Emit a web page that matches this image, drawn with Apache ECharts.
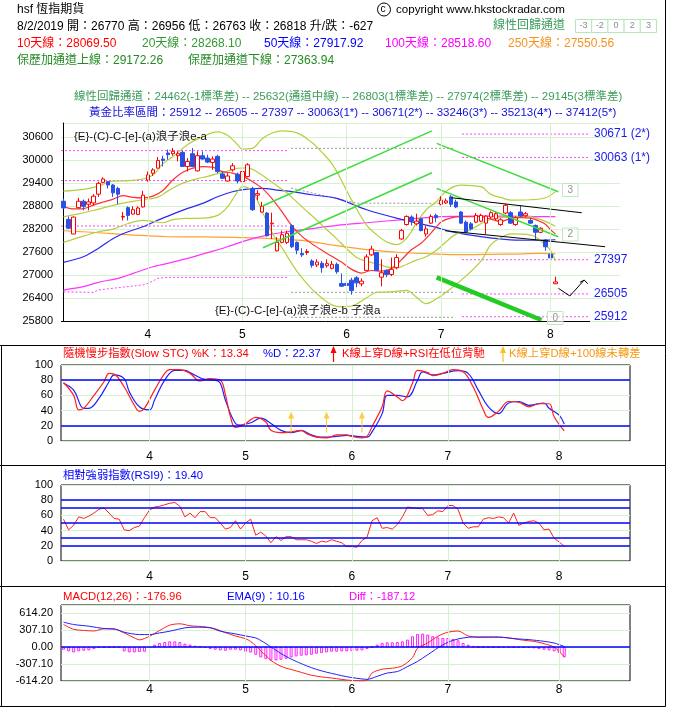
<!DOCTYPE html>
<html><head><meta charset="utf-8">
<script src="https://cdn.jsdelivr.net/npm/echarts@6/dist/echarts.min.js"></script>
<style>html,body{margin:0;padding:0;background:#fff;}#c{width:677px;height:717px;}</style>
</head><body><div id="c"></div>
<script>
// ---------- categories (trading days) ----------
const holidays = ['2019-04-05','2019-04-19','2019-04-22','2019-05-01','2019-05-13','2019-06-07','2019-07-01'];
const dates = [];
for (let d = new Date(Date.UTC(2019,2,7)); d.getTime() <= Date.UTC(2019,7,2); d.setUTCDate(d.getUTCDate()+1)) {
  const dow = d.getUTCDay(), s = d.toISOString().slice(0,10);
  if (dow > 0 && dow < 6 && holidays.indexOf(s) < 0) dates.push(s);
}
const monthStarts = dates.map((d,i)=> (i>0 && d.slice(5,7)!==dates[i-1].slice(5,7)) ? i : -1).filter(i=>i>=0);

// ---------- candles ----------
const open = [28921,28446,28068,28754,28921,28842,28877,29106,29413,29431,
29343,29255,28508,28754,28587,28578,28772,29475,29651,29783,
30020,30178,30160,30108,30196,29827,30160,29712,30108,30046,
29932,30090,29633,29448,29739,29624,29431,29563,29255,29079,
28640,28613,28332,27629,27849,27849,28288,27849,27558,27585,
27365,27260,27304,27242,27172,27277,26776,26780,26864,26926,
26768,27119,27523,27585,26943,27119,27014,27189,27937,28314,
28508,28332,28464,28068,28350,28552,28842,28877,29035,28903,
28640,28376,28332,28376,28402,28350,28508,28464,28314,28613,
28622,28314,28640,28543,28420,28288,28112,27910,27541,26770];
const close = [28745,28218,28508,28921,28789,28904,29053,29387,29501,29343,
29141,29106,28525,28552,28701,28745,29079,29607,29739,29985,
29985,30134,30222,30160,29827,29958,29826,30108,30020,29941,
30020,29695,29519,29580,29844,29448,29695,29871,28701,29120,
28790,28024,28350,27849,28050,28085,27734,27646,27524,27611,
27251,27339,27189,27295,27277,27084,26706,26725,26592,26794,
26838,27470,27673,27119,27058,27014,27146,27453,28156,28525,
28402,28402,28156,28200,28525,28490,28947,28930,28842,28772,
28350,28112,28200,28552,28552,28534,28622,28596,28437,28815,
28350,28490,28534,28596,28350,28112,28218,27734,27445,26818];
const high = [28991,28525,28525,29009,28965,28990,29106,29431,29545,29448,
29370,29299,28640,28789,28789,28789,29193,29695,29783,30073,
30108,30266,30310,30222,30240,30046,30310,30222,30222,30134,
30090,30134,29695,29651,29914,29668,29739,29914,29299,29211,
28903,28640,28622,27981,28156,28156,28315,27875,27699,27673,
27409,27409,27365,27409,27365,27321,27040,26838,26926,26970,
26908,27541,27761,27600,27409,27146,27453,27541,28200,28552,
28552,28596,28490,28288,28578,28596,29053,28990,29079,28960,
28666,28420,28380,28613,28596,28552,28660,28640,28480,28850,
28666,28530,28815,28640,28490,28315,28244,27937,27699,26956];
const low = [28720,28200,28068,28728,28684,28684,28815,29035,29387,29255,
29035,28842,28420,28420,28578,28560,28754,29431,29580,29783,
29826,30002,30108,29958,29826,29695,29826,29695,30002,29914,
29739,29651,29500,29430,29695,29387,29387,29545,28666,28947,
28620,27998,27937,27611,27822,27805,27699,27541,27470,27523,
27189,27207,27058,27189,27146,27032,26690,26662,26486,26680,
26706,27119,27500,27101,26706,26943,26970,27146,27920,28288,
28288,28288,28138,27998,28332,28376,28815,28850,28772,28740,
28332,28086,28160,28350,28376,28068,28470,28430,28280,28580,
28332,28280,28508,28508,28332,27910,28086,27629,27383,26763];

// ---------- moving averages / bands ([day index, value]) ----------
const ma10 = [[0,28780],[2,28720],[4,28730],[6,28820],[8,28900],[9,28937],[10,28977],[12,29067],[14,29021],[16,29008],[18,29054],[20,29202],[22,29475],[24,29674],[26,29784],[28,29824],[30,29808],[32,29691],[34,29655],[36,29576],[38,29437],[40,29257],[42,28984],[44,28645],[46,28270],[48,28005],[50,27810],[52,27643],[54,27487],[56,27328],[58,27146],[60,27050],[62,27116],[64,27098],[66,27170],[68,27393],[70,27655],[72,27831],[74,28097],[76,28380],[78,28489],[80,28521],[82,28517],[84,28526],[86,28454],[88,28396],[90,28466],[92,28493],[94,28479],[96,28390],[97,28320],[98,28183],[99,28069.50]];
const ma20 = [[0,28517],[3,28590],[6,28680],[9,28780],[12,28870],[15,28940],[17,28980],[19,29027],[21,29185],[23,29333],[25,29437],[27,29512],[29,29568],[31,29641],[33,29707],[35,29781],[37,29792],[39,29684],[41,29507],[43,29318],[45,29136],[47,28898],[49,28657],[51,28426],[53,28179],[55,27940],[57,27682],[59,27456],[61,27353],[63,27298],[65,27210],[67,27182],[69,27273],[71,27386],[73,27476],[75,27637],[77,27865],[79,28064],[81,28130],[83,28259],[85,28405],[87,28485],[89,28502],[91,28516],[93,28536],[95,28487],[97,28396],[99,28268.10]];
const bbUpper = [[0,29185],[4,29229],[7,29315],[10,29445],[13,29460],[16,29500],[18,29602],[20,29900],[22,30079],[25,30400],[28,30600],[31,30730],[33,30640],[35,30400],[36,30280],[38,30300],[40,30550],[42,30700],[44,30756],[47,30704],[50,30450],[52,30200],[54,29900],[56,29450],[58,28950],[61,28300],[63,28050],[65,27866],[67,27790],[69,27950],[71,28344],[73,28700],[75,28900],[77,29180],[80,29342],[84,29300],[86,29100],[88,29020],[90,28952],[94,28960],[97,29012],[99,29172.26]];
const bbLower = [[0,27849],[4,28011],[7,28125],[10,28195],[13,28340],[16,28420],[18,28398],[20,28360],[22,28441],[25,28474],[28,28480],[31,28552],[33,28774],[35,29162],[36,29300],[38,29180],[40,28650],[42,28100],[44,27704],[47,27092],[50,26630],[52,26400],[54,26220],[56,26170],[58,26190],[61,26406],[63,26546],[65,26554],[67,26574],[69,26596],[71,26428],[73,26252],[75,26374],[77,26550],[80,26858],[84,27360],[86,27790],[88,27970],[90,28068],[94,28040],[97,27780],[98,27640],[99,27363.94]];
const ma50 = [[0,27328],[4,27475],[7,27692],[10,27952],[13,28126],[16,28256],[19,28430],[22,28586],[25,28734],[28,28864],[31,29038],[34,29168],[37,29237],[40,29255],[43,29211],[46,29170],[50,29090],[55,28995],[61,28700],[68,28450],[75,28240],[78,28130],[84,27997],[90,27915],[95,27905],[99,27917.92]];
const ma100 = [[0,26607],[4,26694],[7,26807],[11,26911],[14,27041],[18,27215],[21,27302],[25,27432],[29,27580],[33,27736],[37,27909],[41,28039],[45,28126],[49,28190],[55,28290],[61,28360],[69,28450],[76,28520],[83,28535],[89,28535],[96,28520],[99,28518.60]];
const ma250 = [[0,28152],[4,28126],[7,28100],[14,28039],[21,27996],[28,27990],[34,27979],[41,27953],[48,27900],[54,27780],[61,27660],[68,27585],[75,27545],[80,27530],[90,27545],[96,27560],[99,27550.56]];
const stepDotted = [[0,26560],[6,26545],[7,26610],[16,26740],[17,26780],[19,26910],[21,26937],[45.2,26937]];

// ---------- reference levels ----------
const leftLevels = [30240, 29460, 28275];
const grayLevels = [30300, 26548, 25897];
const grayBent = [[45.8,29264],[59.1,28870],[75.8,28866]];
const goldenVals = [30671, 30063, 27397, 26505, 25912];
const goldenTags = ['30671 (2*)', '30063 (1*)', '27397', '26505', '25912'];
const goldenAll = [25912, 26505, 27397, 30063, 30671, 33246, 35213, 37412];
const goldenAllTags = ['', '', '', '(1*)', '(2*)', '(3*)', '(4*)', '(5*)'];
const regVals = [24462, 25632, 26803, 27974, 29145];
const regNames = ['-1標準差', '通道中線', '1標準差', '2標準差', '3標準差'];

// trend / channel lines (day index, price)
const greenA = [[40.15,28803],[74.16,30756]];
const greenB = [[40.15,27710],[74.16,29663]];
const greenC = [[75.1,30428],[99.58,29168]];
const greenD = [[75.1,29256],[99.58,27996]];
const greenE = [[75.1,26939],[96.2,25827]];
const blackUp = [[78.1,29012],[104.3,28621]];
const blackLow = [[76.8,28152],[109.0,27736]];
const arrowPath = [[99.6,26652],[101.9,26452],[104.8,26868]];
const arrowHead = [[103.95,26808],[104.8,26868],[105.5,26772]];

// ---------- STC ----------
const stcK = [[0,77],[2,60],[3,41],[4,43],[6,60],[8,78],[9,89],[10,88],[12,71],[14,47],[15,39],[16,43],[18,67],[20,89],[21,94],[23,94],[25,89],[27,79],[29,82],[31,80],[32,61],[33,32],[34,18],[36,23],[37,28],[38,31],[40,25],[41,14],[43,11],[45,12],[47,14],[48,10],[50,5],[52,4],[54,8],[56,8],[57,6],[59,4],[60,6],[61,19],[63,45],[64,66],[66,58],[67,53],[69,76],[70,93],[72,90],[73,86],[75,89],[77,94],[79,91],[81,71],[83,41],[84,31],[86,39],[88,52],[90,51],[92,45],[94,49],[96,49],[97,32],[99,13.34]];
const stcD = [[0,76],[2,67],[4,43],[5,43],[7,56],[9,78],[10,87],[12,82],[13,65],[15,45],[17,41],[18,54],[20,80],[22,93],[24,93],[25,90],[28,81],[30,80],[31,76],[32,54],[34,23],[35,21],[37,24],[39,30],[41,23],[43,14],[45,11],[47,13.6],[49,8],[51,5],[54,6],[56,7.5],[58,6],[60,5],[61,12],[63,36],[64,60],[66,60],[68,58],[70,80],[71,91],[73,87],[75,89],[78,92.5],[80,89],[82,67],[84,45],[86,36],[88,50],[90,52],[92,47],[95,50],[96,43],[98,34],[99,22.37]];
const stcSignals = [45, 52, 59];

// ---------- RSI ----------
const rsi9 = [55,41,47,58,56,59,63,68,70,63,
56,55,41,40,44,46,57,67,71,72,
74,76,77,72,58,63,57,65,65,57,
57,50,42,44,53,42,50,55,34,38,
33,24,32,27,32,32,28,28,28,26,
23,26,25,28,26,24,19,19,18,27,
31,53,57,43,44,42,48,58,71,70,
69,69,60,61,66,65,73,73,68,50,
43,45,45,55,57,56,58,57,50,63,
47,50,52,53,50,41,42,30,25,19.40];

// ---------- MACD ----------
const macd = [[0,407],[2,320],[4,300],[6,290],[8,330],[10,325],[12,255],[14,165],[15,130],[17,195],[19,300],[21,395],[23,420],[25,385],[28,365],[30,330],[32,260],[34,200],[36,150],[37,100],[38,25],[39,-70],[40,-156],[41,-241],[42,-302],[43,-348],[44,-383],[45,-405],[47,-458],[49,-510],[51,-540],[53,-560],[55,-585],[57,-605],[59,-612],[60,-600],[61,-470],[63,-400],[65,-383],[67,-340],[69,-190],[70,-20],[72,73],[74,195],[76,268],[78,290],[80,200],[82,176],[86,176],[88,164],[91,122],[93,103],[95,61],[97,0],[98,-80],[99,-176.96]];
const ema9 = [[0,450],[2,407],[5,377],[8,334],[10,328],[12,268],[15,225],[17,225],[19,255],[21,286],[24,347],[26,359],[29,347],[31,286],[34,237],[36,200],[38,165],[39,118],[40,63],[41,2],[42,-59],[43,-117],[44,-170],[45,-217],[46,-260],[47,-300],[48,-338],[50,-404],[52,-455],[54,-497],[56,-537],[58,-565],[60,-585],[62,-530],[64,-470],[66,-444],[68,-354],[70,-260],[72,-140],[75,40],[77,120],[79,164],[81,182],[86,182],[88,164],[90,146],[92,134],[95,103],[97,73],[98,43],[99,10.16]];
const diff = [-49,-79,-97,-79,-67,-61,-36,-12,-8,-8,
-8,-8,-79,-97,-97,-91,-85,-18,43,73,
91,103,103,91,61,43,24,12,-18,-36,
-49,-61,-67,-49,-49,-61,-85,-100,-140,-188,
-219,-243,-243,-231,-213,-188,-170,-158,-152,-140,
-122,-109,-97,-85,-85,-79,-79,-73,-67,-61,
-36,0,43,73,85,85,91,103,134,195,
237,243,225,195,176,164,164,146,122,73,
43,12,0,-3,-5,-6,-6,-8,-10,-10,
-12,-12,-15,-24,-36,-49,-61,-79,-109,-187.12];

// ---------- drawing ----------
const FONT = '"Liberation Sans","Noto Sans CJK TC",sans-serif';
const GRIDC = '#d6f1cf';
const XMIN = -0.5, XMAX = 112;
const last = a => a[a.length-1][1];
const chart = echarts.init(document.getElementById('c'));

function xAxisFor(gi, margin) {
  return { type:'value', gridIndex:gi, min:XMIN, max:XMAX,
    axisLine:{show:false}, axisTick:{show:false}, splitLine:{show:false},
    axisLabel:{ customValues: monthStarts, margin: margin,
      formatter: v => String(+dates[Math.round(v)].slice(5,7)), color:'#000', fontSize:12, fontFamily:FONT } };
}
function vGrid(gi, extra) {
  const data = monthStarts.map(v => ({xAxis:v}));
  return { type:'line', xAxisIndex:gi, yAxisIndex:gi, data:[], silent:true, z:0,
    markLine:{ silent:true, symbol:['none','none'], label:{show:false}, animation:false,
      lineStyle:{color:GRIDC, width:1, type:'solid'}, data: data.concat(extra||[]) } };
}
function ln(gi, data, color, width, extra) {
  return Object.assign({ type:'line', xAxisIndex:gi, yAxisIndex:gi, data:data, showSymbol:false, symbol:'none',
    silent:true, lineStyle:{color:color, width:width||1}, z:2 }, extra||{});
}
function hline(gi, vals, color, width) {
  return vals.map(v => ({ yAxis:v, lineStyle:{color:color, width:width, type:'solid'} }));
}

const series = [];
// main panel
series.push(vGrid(0, [[{coord:[XMIN,25800], lineStyle:{color:'#000', width:1, type:'solid'}},{coord:[105.96,25800]}]]));
leftLevels.forEach(v => series.push(ln(0, [[XMIN,v],[45.2,v]], '#ff44ff', 1, {lineStyle:{color:'#ff44ff', width:1, type:[2,2]}})));
grayLevels.forEach(v => series.push(ln(0, [[45.8,v],[78.8,v]], '#999', 1, {lineStyle:{color:'#999', width:1, type:[2,2]}})));
series.push(ln(0, grayBent, '#999', 1, {lineStyle:{color:'#999', width:1, type:[2,2]}}));
series.push(ln(0, stepDotted, '#ff44ff', 1, {lineStyle:{color:'#ff44ff', width:1, type:[2,2]}}));
goldenVals.forEach((v,i) => series.push(ln(0, [[80.2,v],[105.56,v]], '#ff44ff', 1, {
  lineStyle:{color:'#ff44ff', width:1, type:[2,2]},
  endLabel:{show:true, formatter: goldenTags[i], color:'#1c1cf0', fontSize:12, fontFamily:FONT, distance:6}})));
series.push(ln(0, ma250, '#ffa033', 1.2, {smooth:0.3}));
series.push(ln(0, ma100, '#ff33ff', 1.2, {smooth:0.3}));
series.push(ln(0, ma50, '#2a2aee', 1.2, {smooth:0.3}));
series.push(ln(0, bbUpper, '#b4cf3c', 1.2, {smooth:0.4}));
series.push(ln(0, ma20, '#b4cf3c', 1.2, {smooth:0.4}));
series.push(ln(0, bbLower, '#b4cf3c', 1.2, {smooth:0.4}));
series.push(ln(0, ma10, '#ff3030', 1.2, {smooth:0.3}));
series.push({ type:'candlestick', xAxisIndex:0, yAxisIndex:0, silent:true, z:3, barWidth:4,
  data: open.map((o,i)=>[i,o,close[i],low[i],high[i]]), encode:{x:0, y:[1,2,3,4]},
  itemStyle:{color:'#ffffff', color0:'#2b50e6', borderColor:'#ff0000', borderColor0:'#2b50e6', borderWidth:1} });
[greenA, greenB, greenC, greenD].forEach(d => series.push(ln(0, d, '#3fdc3f', 1.5, {z:4})));
series.push(ln(0, greenE, '#22cc22', 4.5, {z:4}));
series.push(ln(0, blackUp, '#000', 1, {z:4}));
series.push(ln(0, blackLow, '#000', 1, {z:4}));
series.push(ln(0, arrowPath, '#000', 1, {z:4}));
series.push(ln(0, arrowHead, '#000', 1, {z:4}));

// STC panel
series.push(vGrid(1));
series.push(ln(1, stcD, '#1f1fff', 1.2, {smooth:0.4}));
series.push(ln(1, stcK, '#ff1f1f', 1.2, {smooth:0.4,
  markLine:{silent:true, symbol:['none','none'], label:{show:false}, animation:false, data: hline(1,[80,20],'#0000ff',1.5)}}));
series.push({ type:'scatter', xAxisIndex:1, yAxisIndex:1, silent:true, z:5,
  data: stcSignals.map(i=>[i,25]),
  symbol:'path://M3,0 L6,7 L3.6,7 L3.6,21 L2.4,21 L2.4,7 L0,7 Z', symbolSize:[6,21],
  itemStyle:{color:'#f7c21a'} });

// RSI panel
series.push(vGrid(2));
series.push(ln(2, rsi9.map((v,i)=>[i,v]), '#ff2020', 1, {
  markLine:{silent:true, symbol:['none','none'], label:{show:false}, animation:false, data: hline(2,[80,70,50,30,20],'#0000ff',1.5)}}));

// MACD panel
series.push(vGrid(3));
series.push({ type:'bar', xAxisIndex:3, yAxisIndex:3, silent:true, barWidth:3, z:2,
  data: diff.map((v,i)=>[i,v]),
  itemStyle:{color:'rgba(255,255,255,0)', borderColor:'#ff22ff', borderWidth:1},
  markLine:{silent:true, symbol:['none','none'], label:{show:false}, animation:false, data: hline(3,[0],'#0000ff',1.5)} });
series.push(ln(3, macd, '#ff2020', 1, {smooth:0.3, z:3}));
series.push(ln(3, ema9, '#2020ff', 1, {smooth:0.3, z:3}));

// ---------- texts & frame ----------
const G = [];
function txt(x, y, text, fill, size, extra) {
  G.push(Object.assign({ type:'text', x:x, y:y, silent:true, z:10,
    style:{ text:text, fill:fill, font:(size||12)+'px '+FONT, verticalAlign:'middle', textVerticalAlign:'middle' } }, extra||{}));
}
function seg(x1,y1,x2,y2,color,w) {
  G.push({ type:'line', silent:true, z:10, shape:{x1:x1,y1:y1,x2:x2,y2:y2}, style:{stroke:color||'#000', lineWidth:w||1} });
}
const d99 = dates[dates.length-1];
const dateStr = (+d99.slice(5,7)) + '/' + (+d99.slice(8,10)) + '/' + d99.slice(0,4);
const n = close.length - 1;
txt(17, 10, 'hsf 恆指期貨', '#000', 12);
G.push({ type:'circle', silent:true, z:10, shape:{cx:384, cy:9.5, r:6.5}, style:{fill:'none', stroke:'#000', lineWidth:1} });
txt(380.5, 9.5, 'c', '#000', 10);
txt(396, 10, 'copyright www.hkstockradar.com', '#000', 11.6);
txt(17, 27, dateStr + ' 開：' + open[n] + ' 高：' + high[n] + ' 低：' + low[n] + ' 收：' + close[n] + ' 升/跌：' + (close[n]-close[n-1]), '#000', 12);
txt(493, 26, '線性回歸通道', '#3c9c5c', 12);
['-3','-2','0','2','3'].forEach((t,i) => {
  G.push({ type:'rect', silent:true, z:10, shape:{x:575.5+i*16.2, y:19.5, width:16.2, height:13}, style:{fill:'#fff', stroke:'#b9e6b9', lineWidth:1} });
  G.push({ type:'text', silent:true, z:11, x:583.6+i*16.2, y:26, style:{text:t, fill:'#8a8a8a', font:'9px '+FONT, align:'center', verticalAlign:'middle', textAlign:'center', textVerticalAlign:'middle'} });
});
txt(17, 44, '10天線：' + last(ma10).toFixed(2), '#ff0000', 12);
txt(142, 44, '20天線：' + last(ma20).toFixed(2), '#339933', 12);
txt(264, 44, '50天線：' + last(ma50).toFixed(2), '#0000ff', 12);
txt(385, 44, '100天線：' + last(ma100).toFixed(2), '#ff00ff', 12);
txt(508, 44, '250天線：' + last(ma250).toFixed(2), '#f5921e', 12);
txt(17, 61, '保歷加通道上線：' + last(bbUpper).toFixed(2), '#228b22', 12);
txt(188, 61, '保歷加通道下線：' + last(bbLower).toFixed(2), '#228b22', 12);
txt(74, 97, '線性回歸通道：' + regVals.map((v,i)=> v + '(' + regNames[i] + ')').join(' -- '), '#3c9c5c', 11.5);
txt(89, 113, '黃金比率區間：' + goldenAll.map((v,i)=> v + goldenAllTags[i]).join(' -- '), '#1010dd', 11.5);
txt(74, 137, '{E}-(C)-C-[e]-(a)浪子浪e-a', '#111', 11.5);
txt(215, 311, '{E}-(C)-C-[e]-(a)浪子浪e-b 子浪a', '#111', 11.5);
[[562.5,183.5,'3'],[562.5,228,'2'],[547.5,311.5,'0']].forEach(b => {
  G.push({ type:'rect', silent:true, z:10, shape:{x:b[0], y:b[1], width:15.5, height:13}, style:{fill:'rgba(255,255,255,0.6)', stroke:'#bfe8bf', lineWidth:1} });
  G.push({ type:'text', silent:true, z:11, x:b[0]+7.75, y:b[1]+6.5, style:{text:b[2], fill:'#8a9a8a', font:'10px '+FONT, align:'center', verticalAlign:'middle', textAlign:'center', textVerticalAlign:'middle'} });
});
// panel titles
const TS = 11.3;
txt(63, 354, '隨機慢步指數(Slow STC) %K：' + last(stcK).toFixed(2), '#ff0000', TS);
txt(263, 354, '%D：' + last(stcD).toFixed(2), '#0000ff', TS);
G.push({ type:'polygon', silent:true, z:10, shape:{points:[[330.5,353],[333.5,346],[336.5,353]]}, style:{fill:'#ff0000'} });
seg(333.5,352,333.5,362,'#ff0000',1.2);
txt(342, 354, 'K線上穿D線+RSI在低位背馳', '#ff0000', TS);
G.push({ type:'polygon', silent:true, z:10, shape:{points:[[500,353],[503,346],[506,353]]}, style:{fill:'#f7c21a'} });
seg(503,352,503,362,'#f7c21a',1.2);
txt(509, 354, 'K線上穿D線+100線未轉差', '#f59a12', TS);
txt(63, 476, '相對強弱指數(RSI9)：' + rsi9[rsi9.length-1].toFixed(2), '#0000ff', TS);
txt(63, 597, 'MACD(12,26)：' + last(macd).toFixed(2), '#ff0000', TS);
txt(227, 597, 'EMA(9)：' + last(ema9).toFixed(2), '#0000ff', TS);
txt(349, 597, 'Diff：' + diff[diff.length-1].toFixed(2), '#ff00ff', TS);
// frame
seg(665.5, 0, 665.5, 706.5);
seg(0, 345.5, 665.5, 345.5);
seg(0, 465.5, 665.5, 465.5);
seg(0, 586.5, 665.5, 586.5);
seg(0, 706.5, 665.5, 706.5);
seg(1.5, 345.5, 1.5, 706.5);

const yLab = {color:'#000', fontSize:11, fontFamily:FONT};
chart.setOption({
  animation:false,
  backgroundColor:'#fff',
  textStyle:{fontFamily:FONT},
  grid:[
    {left:61, right:57, top:123, height:198},
    {left:61, right:47, top:365, height:76, show:true, borderColor:'#000', borderWidth:1},
    {left:61, right:47, top:485, height:76, show:true, borderColor:'#000', borderWidth:1},
    {left:61, right:47, top:605, height:76, show:true, borderColor:'#000', borderWidth:1}
  ],
  xAxis:[ xAxisFor(0,8), xAxisFor(1,10), xAxisFor(2,10), xAxisFor(3,3) ],
  yAxis:[
    {type:'value', gridIndex:0, min:25800, max:30960, interval:600, axisLine:{show:true, lineStyle:{color:'#000'}}, axisTick:{show:false},
     splitLine:{lineStyle:{color:GRIDC}}, axisLabel:Object.assign({showMaxLabel:false, formatter: v => String(Math.round(v))}, yLab)},
    {type:'value', gridIndex:1, min:0, max:100, interval:20, axisLine:{show:false}, axisTick:{show:false}, splitLine:{lineStyle:{color:GRIDC}}, axisLabel:yLab},
    {type:'value', gridIndex:2, min:0, max:100, interval:20, axisLine:{show:false}, axisTick:{show:false}, splitLine:{lineStyle:{color:GRIDC}}, axisLabel:yLab},
    {type:'value', gridIndex:3, min:-614.2, max:760, interval:307.1, axisLine:{show:false}, axisTick:{show:false}, splitLine:{lineStyle:{color:GRIDC}},
     axisLabel:Object.assign({showMaxLabel:false, formatter: v => (Math.round(v*100)/100).toFixed(2)}, yLab)}
  ],
  series: series,
  graphic: G
});
</script></body></html>
